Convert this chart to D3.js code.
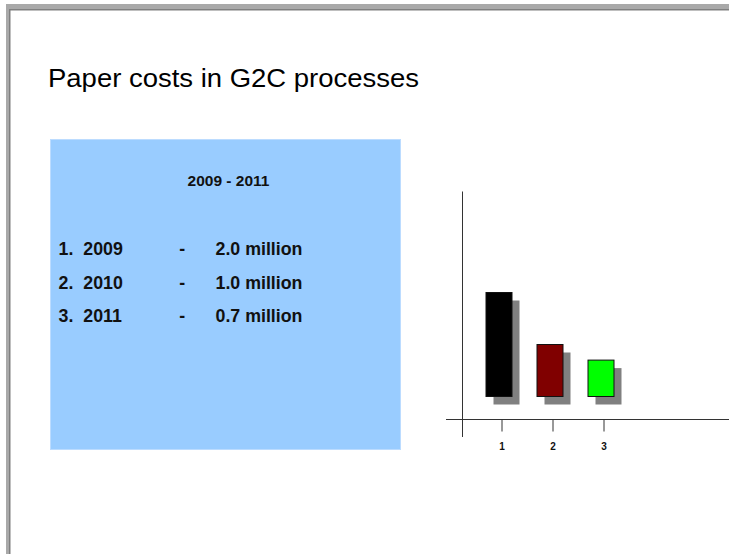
<!doctype html>
<html lang="en">
<head>
  <meta charset="utf-8">
  <title>Paper costs in G2C processes</title>
  <style>
    body { margin: 0; background: #fff; }
    svg { display: block; font-family: "Liberation Sans", Arial, sans-serif; }
    .axis .domain { display: none; }
    .axis line { stroke: #333; }
    .axis text { font-size: 10px; font-weight: bold; fill: #111; }
  </style>
</head>
<body>
<svg width="729" height="554"></svg>
<script src="https://d3js.org/d3.v7.min.js"></script>
<script>
// chart data
var categories = ["1", "2", "3"];
var years = ["2009", "2010", "2011"];
var values = [2.0, 1.0, 0.7];
var barColors = ["#000000", "#800000", "#00ff00"];
var rangeLabel = "2009 - 2011";
var title = "Paper costs in G2C processes";

var svg = d3.select("svg");

// slide frame (gray edges top and left)
svg.append("rect").attr("x", 6).attr("y", 4).attr("width", 723).attr("height", 5).attr("fill", "#a9a9a9");
svg.append("rect").attr("x", 6).attr("y", 4).attr("width", 3).attr("height", 550).attr("fill", "#a9a9a9");
svg.append("rect").attr("x", 9).attr("y", 9).attr("width", 720).attr("height", 1.5).attr("fill", "#808080");
svg.append("rect").attr("x", 9).attr("y", 9).attr("width", 1.5).attr("height", 545).attr("fill", "#808080");

// title
svg.append("text")
    .attr("x", 48)
    .attr("y", 86.5)
    .attr("font-size", 26)
    .attr("textLength", 371)
    .attr("lengthAdjust", "spacingAndGlyphs")
    .attr("fill", "#000")
    .text(title);

// blue text box
svg.append("rect")
    .attr("x", 50.5).attr("y", 139.5)
    .attr("width", 350).attr("height", 310)
    .attr("fill", "#99ccff")
    .attr("stroke", "#bcdcff");

svg.append("text")
    .attr("x", 228.5)
    .attr("y", 186)
    .attr("text-anchor", "middle")
    .attr("font-size", 15.5)
    .attr("font-weight", "bold")
    .attr("fill", "#111")
    .text(rangeLabel);

var rows = svg.append("g")
    .attr("font-size", 17.8)
    .attr("font-weight", "bold")
    .attr("fill", "#111")
  .selectAll("g")
  .data(values)
  .enter().append("g")
    .attr("transform", function(d, i) { return "translate(0," + (255 + i * 33.7) + ")"; });

rows.append("text").attr("x", 58.5).text(function(d, i) { return categories[i] + "."; });
rows.append("text").attr("x", 83.3).text(function(d, i) { return years[i]; });
rows.append("text").attr("x", 179.3).text("-");
rows.append("text").attr("x", 215.5).text(function(d) { return d3.format(".1f")(d) + " million"; });

// bar chart
var x = d3.scalePoint()
    .domain(categories)
    .range([501.5, 603.5]);

var y = d3.scaleLinear()
    .domain([0, 4])
    .range([396.5, 188.5]);

var barW = 26, shadow = 8;

// axes lines
svg.append("line")
    .attr("x1", 462.5).attr("x2", 462.5)
    .attr("y1", 191.5).attr("y2", 437)
    .attr("stroke", "#333");
svg.append("line")
    .attr("x1", 446).attr("x2", 729)
    .attr("y1", 419.5).attr("y2", 419.5)
    .attr("stroke", "#333");

// shadows
svg.append("g").selectAll("rect")
    .data(values)
  .enter().append("rect")
    .attr("x", function(d, i) { return x(categories[i]) - 16 + shadow; })
    .attr("y", function(d) { return y(d) + shadow; })
    .attr("width", barW)
    .attr("height", function(d) { return y(0) - y(d); })
    .attr("fill", "#808080");

// bars
svg.append("g").selectAll("rect")
    .data(values)
  .enter().append("rect")
    .attr("x", function(d, i) { return x(categories[i]) - 16 + 0.5; })
    .attr("y", function(d) { return y(d); })
    .attr("width", barW)
    .attr("height", function(d) { return y(0) - y(d); })
    .attr("fill", function(d, i) { return barColors[i]; })
    .attr("stroke", "#111");

svg.append("g")
    .attr("class", "axis")
    .attr("transform", "translate(0,419.5)")
    .call(d3.axisBottom(x).tickSize(12).tickPadding(11));
</script>
</body>
</html>
